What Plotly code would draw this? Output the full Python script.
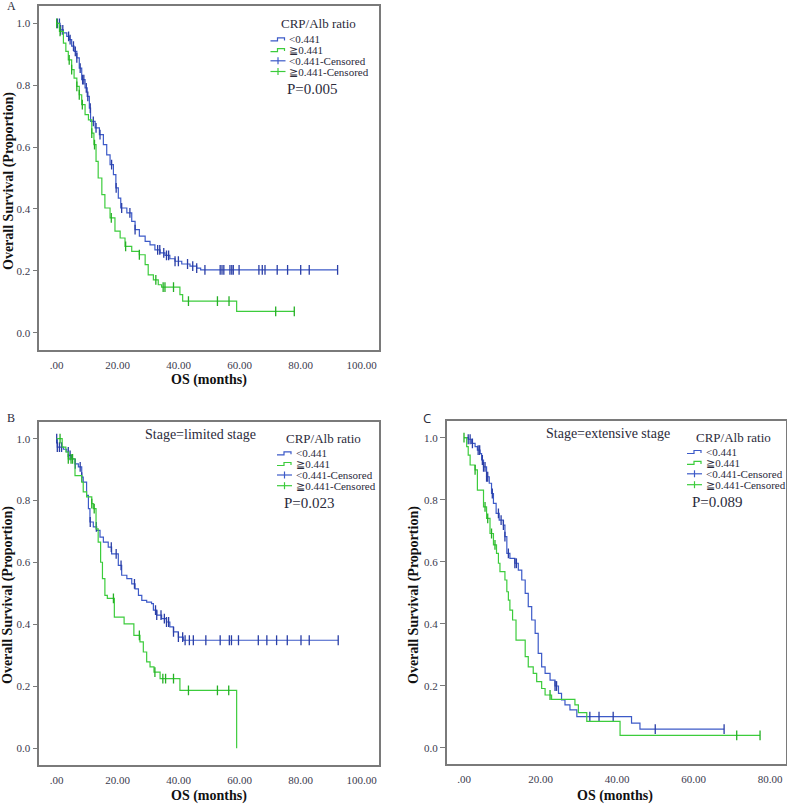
import numpy as np
import plotly.graph_objects as go

W, H = 787, 804

# ---------------- data (months, survival proportion) ----------------
# Panel A  (all patients)
A_LOW_T = [0, 1.1, 2.2, 3.3, 4.1, 4.9, 5.7, 6.6, 7.4, 8.2, 9.3, 10.0, 10.7, 11.1, 12.6, 14.0, 15.3, 16.4, 17.5,
           18.6, 19.4, 20.2, 21.0, 23.0, 24.6, 25.7, 27.1, 29.0, 30.6, 32.2, 33.9, 35.5, 37.1, 38.8, 41.0, 43.7,
           45.9, 47.2]
A_LOW_S = [1.0, .979, .969, .958, .947, .926, .909, .888, .855, .818, .791, .764, .726, .683, .662, .640, .608, .575,
           .543, .511, .468, .435, .403, .387, .360, .333, .312, .295, .284, .268, .258, .250, .239, .231, .222, .215,
           .209, .203]
A_LOW_C = [0.2, 0.9, 1.3, 2.0, 3.9, 4.4, 5.5, 6.1, 6.6, 7.7, 8.5, 8.9, 9.7, 10.2, 11.0, 12.0, 12.9, 14.2, 18.0, 19.5,
           21.3, 24.0, 25.7, 33.1, 33.8, 35.1, 36.0, 36.7, 38.8, 39.9, 42.9, 44.6, 45.9, 48.6, 53.6, 54.2, 54.8, 56.8,
           57.4, 57.9, 59.8, 66.3, 67.4, 68.3, 72.3, 75.7, 80.0, 82.8, 92.1]
A_HIGH_T = [0, 0.9, 2.2, 3.0, 3.8, 4.9, 5.7, 6.6, 7.4, 8.2, 9.3, 10.4, 11.5, 12.2, 12.9, 13.6, 14.8, 15.8, 17.5, 19.1,
            20.8, 22.4, 24.6, 27.1, 29.0, 30.0, 31.7, 33.3, 34.4, 40.4, 41.3, 59.0]
A_HIGH_S = [1.0, .974, .936, .909, .882, .850, .823, .796, .769, .737, .705, .688, .645, .608, .554, .500, .446, .403,
            .371, .328, .306, .279, .263, .252, .220, .187, .171, .155, .147, .123, .102, .069]
A_HIGH_C = [0.0, 1.1, 4.1, 4.9, 6.6, 7.4, 8.4, 11.5, 12.4, 17.9, 22.6, 27.1, 32.5, 34.9, 35.5, 38.3, 43.2, 52.7, 56.5,
            71.8, 77.9]

# Panel B  (limited stage)
B_LOW_T = [0, 0.2, 2.2, 3.3, 3.9, 4.9, 6.0, 7.1, 8.2, 8.7, 9.8, 10.4, 10.9, 12.0, 13.1, 14.2, 15.3, 16.9, 18.0, 20.2,
           21.3, 23.0, 24.6, 25.7, 26.8, 27.9, 29.5, 31.1, 31.7, 32.8, 34.4, 36.0, 37.1, 38.3, 39.9, 41.5]
B_LOW_S = [1.0, .973, .966, .957, .946, .935, .919, .909, .876, .860, .817, .774, .731, .715, .704, .682, .666, .650,
           .628, .591, .559, .548, .531, .515, .494, .478, .472, .467, .446, .430, .419, .408, .392, .376, .359, .349]
B_LOW_C = [0.0, 0.2, 0.9, 1.6, 3.8, 4.4, 6.1, 7.7, 8.2, 11.0, 13.0, 17.9, 19.5, 21.1, 25.5, 32.4, 32.8, 34.2, 35.3,
           36.0, 36.7, 38.3, 39.9, 41.3, 42.1, 43.5, 44.8, 48.9, 53.6, 56.6, 57.3, 59.6, 66.1, 68.9, 72.1, 75.6, 80.1,
           82.8, 92.3]
B_HIGH_T = [0, 1.8, 3.0, 3.8, 6.0, 8.2, 8.7, 9.8, 11.5, 12.0, 12.9, 13.6, 14.4, 15.0, 15.8, 16.6, 18.9, 22.1, 25.3,
            27.3, 28.4, 29.5, 30.6, 31.9, 33.9, 40.4, 59.0]
B_HIGH_S = [1.0, .973, .957, .935, .881, .860, .828, .812, .790, .774, .709, .666, .601, .548, .494, .484, .424, .402,
            .365, .344, .311, .279, .263, .246, .225, .187, 0.0]
B_HIGH_C = [1.1, 3.8, 4.7, 5.2, 11.5, 12.3, 18.6, 27.1, 32.2, 34.8, 35.7, 38.3, 43.2, 52.7, 56.4]

# Panel C  (extensive stage)
C_LOW_T = [0, 1.1, 2.0, 2.9, 3.5, 4.2, 4.6, 5.1, 5.9, 6.6, 7.2, 7.7, 8.4, 9.2, 10.3, 10.7, 11.2, 12.0, 13.3, 14.2,
           15.1, 16.0, 16.8, 17.7, 18.6, 19.4, 20.3, 21.2, 22.5, 23.8, 24.7, 25.5, 26.4, 27.7, 29.5, 43.8, 46.0]
C_LOW_S = [1.0, .995, .982, .971, .960, .949, .928, .906, .874, .853, .820, .788, .756, .734, .718, .681, .627, .611,
           .595, .573, .541, .498, .455, .412, .369, .304, .261, .240, .218, .199, .175, .154, .138, .122, .100, .079,
           .060]
C_LOW_C = [1.1, 1.6, 2.2, 3.7, 4.1, 4.8, 5.1, 5.5, 5.9, 6.2, 7.4, 9.0, 9.7, 10.3, 10.7, 11.6, 13.3, 13.7, 23.8, 24.2,
           32.9, 35.3, 39.0, 50.0, 68.0]
C_HIGH_T = [0, 0.7, 1.1, 1.6, 2.9, 3.5, 5.1, 5.9, 6.8, 7.7, 8.5, 9.0, 9.4, 10.7, 11.2, 11.6, 12.0, 12.7, 13.6, 16.0,
            16.8, 18.1, 19.0, 20.3, 21.2, 22.9, 29.0, 29.9, 32.1, 40.8]
C_HIGH_S = [1.0, .971, .944, .912, .896, .831, .777, .740, .691, .654, .627, .595, .568, .541, .503, .476, .444, .412,
            .347, .294, .261, .240, .213, .191, .170, .156, .138, .113, .085, .040]
C_HIGH_C = [0.0, 2.9, 5.5, 6.2, 7.2, 8.1, 22.5, 71.3, 77.4]

Y_TICKS = [0.0, 0.2, 0.4, 0.6, 0.8, 1.0]
Y_TICK_TEXT = ["0.0", "0.2", "0.4", "0.6", "0.8", "1.0"]
X_TICKS_AB = [0, 20, 40, 60, 80, 100]
X_TICK_TEXT_AB = [".00", "20.00", "40.00", "60.00", "80.00", "100.00"]
X_TICKS_C = [0, 20, 40, 60, 80]
X_TICK_TEXT_C = [".00", "20.00", "40.00", "60.00", "80.00"]

GROUPS = ["<0.441", "\u22670.441"]
P_VALUES = ["P=0.005", "P=0.023", "P=0.089"]
STAGES = [None, "Stage=limited stage", "Stage=extensive stage"]

# ---------------- style ----------------
BLUE = "#3c5ac8"
GREEN = "#3ccc3c"
BLUE_M = "#2a3ea6"
GREEN_M = "#25b025"
TXT = "#2b2b3b"
TICK = "#3a3a4e"
FRAME = "#7a7a7a"
SERIF = "Liberation Serif, DejaVu Sans"


def pxx(x):
    return x / W


def pxy(y):
    return 1 - y / H


fig = go.Figure()


def step_xy(t, s, cens):
    t = list(t)
    s = list(s)
    end = max(max(cens) if len(cens) else 0, t[-1])
    if end > t[-1]:
        t.append(end)
        s.append(s[-1])
    return t, s


def cens_y(t, s, cens):
    t = np.asarray(t)
    s = np.asarray(s)
    idx = np.searchsorted(t, np.asarray(cens), side="right") - 1
    return s[idx]


def add_curves(t, s, cens, color, mcolor, xa, ya):
    xs, ys = step_xy(t, s, cens)
    fig.add_trace(go.Scatter(x=xs, y=ys, mode="lines", line=dict(color=color, width=1.2, shape="hv"),
                             xaxis=xa, yaxis=ya, showlegend=False, hoverinfo="skip"))
    fig.add_trace(go.Scatter(x=cens, y=cens_y(t, s, cens), mode="markers",
                             marker=dict(symbol="line-ns", size=7, color=mcolor,
                                         line=dict(color=mcolor, width=1.3)),
                             xaxis=xa, yaxis=ya, showlegend=False, hoverinfo="skip"))


panels = [
    dict(key="", frame=(39.3, 6, 379, 350), x0px=56.7, xpx=3.05, y0px=332.7, ypx=309.4,
         ticks=(X_TICKS_AB, X_TICK_TEXT_AB),
         data=((A_LOW_T, A_LOW_S, A_LOW_C), (A_HIGH_T, A_HIGH_S, A_HIGH_C))),
    dict(key="2", frame=(39.3, 421.7, 379, 765), x0px=56.7, xpx=3.05, y0px=748.3, ypx=309.6,
         ticks=(X_TICKS_AB, X_TICK_TEXT_AB),
         data=((B_LOW_T, B_LOW_S, B_LOW_C), (B_HIGH_T, B_HIGH_S, B_HIGH_C))),
    dict(key="3", frame=(446.7, 420.7, 786.2, 764), x0px=464.0, xpx=3.825, y0px=747.7, ypx=310.0,
         ticks=(X_TICKS_C, X_TICK_TEXT_C),
         data=((C_LOW_T, C_LOW_S, C_LOW_C), (C_HIGH_T, C_HIGH_S, C_HIGH_C))),
]

layout_axes = {}
for p in panels:
    x1, y1, x2, y2 = p["frame"]
    xr = [(x1 - p["x0px"]) / p["xpx"], (x2 - p["x0px"]) / p["xpx"]]
    yr = [(p["y0px"] - y2) / p["ypx"], (p["y0px"] - y1) / p["ypx"]]
    xa, ya = "x" + p["key"], "y" + p["key"]
    layout_axes["xaxis" + p["key"]] = dict(
        domain=[pxx(x1), pxx(x2)], range=xr, anchor=ya, showgrid=False, zeroline=False,
        showline=True, mirror=True, linecolor=FRAME, linewidth=1.5,
        ticks="outside", ticklen=4, tickcolor="rgba(0,0,0,0)",
        tickvals=p["ticks"][0], ticktext=p["ticks"][1],
        tickfont=dict(family=SERIF, size=11, color=TICK))
    layout_axes["yaxis" + p["key"]] = dict(
        domain=[pxy(y2), pxy(y1)], range=yr, anchor=xa, showgrid=False, zeroline=False,
        showline=True, mirror=True, linecolor=FRAME, linewidth=1.5,
        ticks="outside", ticklen=5, tickcolor=FRAME, tickwidth=1,
        tickvals=Y_TICKS, ticktext=Y_TICK_TEXT,
        tickfont=dict(family=SERIF, size=11, color=TICK))
    (lt, ls, lc), (ht, hs, hc) = p["data"]
    add_curves(lt, ls, lc, BLUE, BLUE_M, xa, ya)
    add_curves(ht, hs, hc, GREEN, GREEN_M, xa, ya)

annotations = []
shapes = []


def text(x, y, s, size, family=SERIF, color=TXT, xanchor="center", bold=False, angle=0):
    annotations.append(dict(x=pxx(x), y=pxy(y), xref="paper", yref="paper", text=("<b>%s</b>" % s) if bold else s,
                            showarrow=False, xanchor=xanchor, yanchor="middle", textangle=angle, borderpad=0,
                            font=dict(family=family, size=size, color=color)))


def legend(sx, title_c, rows, p_pos, p_text, stage=None, stage_pos=None):
    text(title_c[0], title_c[1], "CRP/Alb ratio", 13)
    cols = [BLUE, GREEN, BLUE, GREEN]
    labels = [GROUPS[0], GROUPS[1], GROUPS[0] + "-Censored", GROUPS[1] + "-Censored"]
    for i, (yy, c, lab) in enumerate(zip(rows, cols, labels)):
        if i < 2:
            path = "M %f %f L %f %f L %f %f L %f %f L %f %f" % (
                pxx(sx), pxy(yy + 1.5), pxx(sx + 7), pxy(yy + 1.5), pxx(sx + 7), pxy(yy - 1.5),
                pxx(sx + 14), pxy(yy - 1.5), pxx(sx + 14), pxy(yy + 1))
            shapes.append(dict(type="path", path=path, xref="paper", yref="paper",
                               line=dict(color=c, width=1.2)))
        else:
            shapes.append(dict(type="line", xref="paper", yref="paper", x0=pxx(sx), x1=pxx(sx + 15),
                               y0=pxy(yy), y1=pxy(yy), line=dict(color=c, width=1.2)))
            shapes.append(dict(type="line", xref="paper", yref="paper", x0=pxx(sx + 7.5), x1=pxx(sx + 7.5),
                               y0=pxy(yy - 3.5), y1=pxy(yy + 3.5), line=dict(color=c, width=1.2)))
        text(sx + 17.5, yy, lab, 11, xanchor="left")
    text(p_pos[0], p_pos[1], p_text, 15, xanchor="left")
    if stage:
        text(stage_pos[0], stage_pos[1], stage, 14)


legend(270.5, (318, 23.3), [39.4, 50.1, 60.8, 71.5], (286, 89.5), P_VALUES[0])
legend(277, (323, 438), [453.3, 464, 475, 485.7], (283, 503), P_VALUES[1], STAGES[1], (200, 434))
legend(687, (733, 437.3), [452.0, 462.9, 473.8, 484.7], (691, 502.3), P_VALUES[2], STAGES[2], (608, 433.3))

# panel letters
text(11, 6, "A", 12)
text(11, 418.3, "B", 12)
text(427, 418.3, "C", 13, family="Open Sans")

# axis titles
for (yx, yy), (xx, xy) in [((9, 181), (209, 380)), ((8, 595), (208.5, 796)), ((414, 595), (615, 796))]:
    text(yx, yy, "Overall Survival (Proportion)", 14, bold=True, angle=-90, color="#111")
    text(xx, xy, "OS (months)", 14, bold=True, color="#111")

fig.update_layout(width=W, height=H, autosize=False, margin=dict(l=0, r=0, t=0, b=0),
                  paper_bgcolor="white", plot_bgcolor="white", showlegend=False,
                  annotations=annotations, shapes=shapes, **layout_axes)

fig.write_html("out.html", config={"displayModeBar": False},
               post_script="document.body.style.margin='0px';document.body.style.padding='0px';")
